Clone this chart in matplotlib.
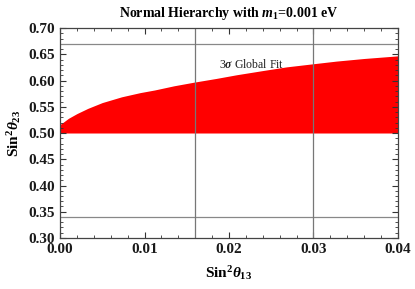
import matplotlib
matplotlib.use("Agg")
import matplotlib.pyplot as plt
from matplotlib.ticker import MultipleLocator

plt.rcParams['font.family'] = ['Liberation Serif', 'DejaVu Serif']
plt.rcParams['mathtext.fontset'] = 'custom'
plt.rcParams['mathtext.rm'] = 'Liberation Serif:bold'
plt.rcParams['mathtext.it'] = 'Liberation Serif:italic:bold'
plt.rcParams['mathtext.bf'] = 'Liberation Serif:bold'

# upper edge of the allowed region
s13 = [0.0, 0.001, 0.002, 0.0033, 0.005, 0.0073, 0.0095, 0.0112, 0.0135,
       0.0159, 0.0185, 0.0209, 0.024, 0.0268, 0.030, 0.0327, 0.036, 0.040]
s23_upper = [0.516, 0.528, 0.537, 0.547, 0.558, 0.569, 0.577, 0.582, 0.590,
             0.597, 0.604, 0.611, 0.619, 0.626, 0.632, 0.637, 0.642, 0.647]
s23_lower = 0.50

# 3 sigma global fit bounds
s23_fit = [0.34, 0.67]
s13_fit = [0.016, 0.030]

fig = plt.figure(figsize=(4.15, 2.89), dpi=100)
ax = fig.add_axes([0.1446, 0.1765, 0.8144, 0.7265])

ax.fill_between(s13, s23_lower, s23_upper, color='#ff0000', lw=0)

for y in s23_fit:
    ax.axhline(y, color='#888888', lw=0.9)
for x in s13_fit:
    ax.axvline(x, color='#777777', lw=0.9)

ax.text(0.0188, 0.630, r'3$\sigma$ Global Fit', fontsize=8.5, va='center',
        fontweight='normal', color='#222222')

ax.set_xlim(0, 0.04)
ax.set_ylim(0.30, 0.70)
ax.xaxis.set_major_locator(MultipleLocator(0.01))
ax.xaxis.set_minor_locator(MultipleLocator(0.002))
ax.yaxis.set_major_locator(MultipleLocator(0.05))
ax.yaxis.set_minor_locator(MultipleLocator(0.01))
ax.tick_params(which='both', direction='in', top=True, right=True, colors='#333333')
ax.tick_params(which='major', length=4, width=0.8, labelsize=11, labelcolor='#1a1a1a')
ax.tick_params(which='minor', length=2, width=0.6)
for lab in ax.get_xticklabels() + ax.get_yticklabels():
    lab.set_fontweight('bold')
for sp in ax.spines.values():
    sp.set_color('#444444')
    sp.set_linewidth(0.9)

ax.set_xlabel(r'Sin$^2\theta_{13}$', fontsize=11, fontweight='bold', labelpad=6)
ax.set_ylabel(r'Sin$^2\theta_{23}$', fontsize=11, fontweight='bold', labelpad=4)
ax.set_title(r'Normal Hierarchy with $m_1$=0.001 eV', fontsize=10, fontweight='bold', pad=8)

fig.savefig('out.png', dpi=100)
